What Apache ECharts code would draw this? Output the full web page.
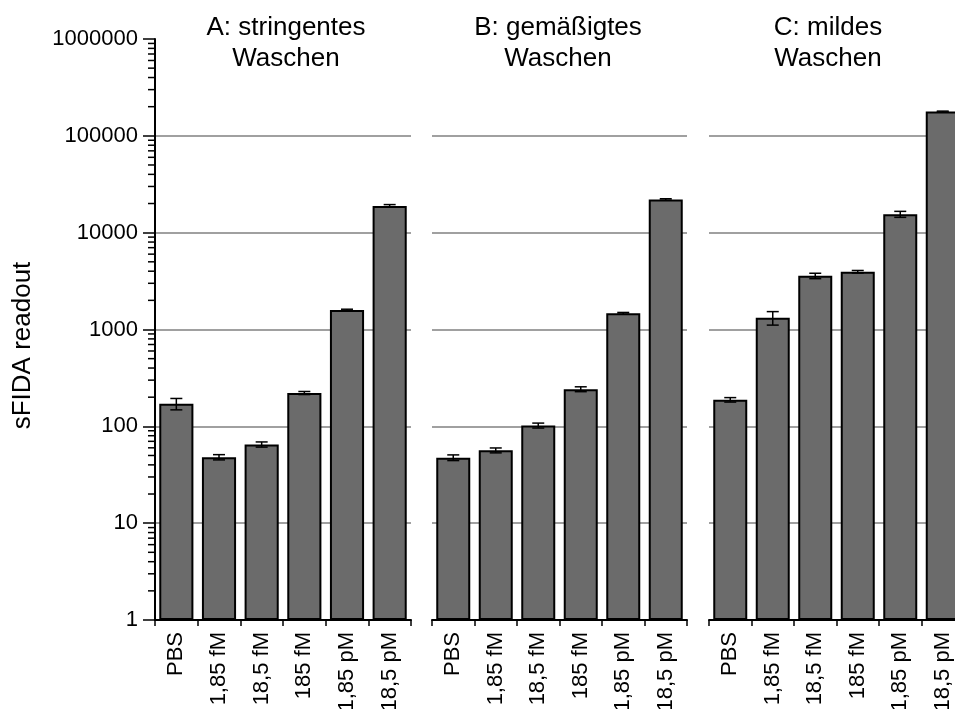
<!DOCTYPE html>
<html>
<head>
<meta charset="utf-8">
<script src="https://cdn.jsdelivr.net/npm/echarts@6/dist/echarts.min.js"></script>
<style>
  html, body { margin: 0; padding: 0; background: #fff; }
  #chart { width: 955px; height: 709px; }
</style>
</head>
<body>
<div id="chart"></div>
<script>
// Concentrations on the x axis (same for every panel)
const categories = ['PBS', '1,85 fM', '18,5 fM', '185 fM', '1,85 pM', '18,5 pM'];
const panelTitles = ['A: stringentes\nWaschen', 'B: gemäßigtes\nWaschen', 'C: mildes\nWaschen'];
const yAxisName = 'sFIDA readout';

// Mean readout and error per concentration
const meanA = [171, 48, 65, 221, 1590, 18900];
const errA  = [23, 3, 4, 8, 30, 600];
const meanB = [47.5, 56.5, 102, 242, 1470, 22000];
const errB  = [3.2, 3.3, 6, 14, 30, 400];
const meanC = [188, 1320, 3580, 3950, 15500, 178000];
const errC  = [10, 210, 230, 120, 1100, 2000];

// Decade ticks of the log axis and the minor steps inside each decade
const yTicks = [1, 10, 100, 1000, 10000, 100000, 1000000];
const minorSteps = [2, 3, 4, 5, 6, 7, 8, 9];

const FONT = '"Liberation Sans", Arial, Helvetica, sans-serif';
const BAR_FILL = '#6b6b6b';

const means = [meanA, meanB, meanC];
const errs = [errA, errB, errC];

const gridRects = [
  { left: 155, width: 256 },
  { left: 432, width: 255 },
  { left: 709, width: 255 }
];
const titleCenters = [286, 558, 828];

const minorValues = [];
yTicks.slice(0, -1).forEach(function (d) {
  minorSteps.forEach(function (s) { minorValues.push(d * s); });
});

function renderErrorBar(params, api) {
  const lo = api.coord([api.value(0), api.value(1)]);
  const hi = api.coord([api.value(0), api.value(2)]);
  const half = 6;
  const st = { stroke: '#000', lineWidth: 1.5 };
  return {
    type: 'group',
    children: [
      { type: 'line', shape: { x1: lo[0], y1: lo[1], x2: hi[0], y2: hi[1] }, style: st },
      { type: 'line', shape: { x1: lo[0] - half, y1: lo[1], x2: lo[0] + half, y2: lo[1] }, style: st },
      { type: 'line', shape: { x1: hi[0] - half, y1: hi[1], x2: hi[0] + half, y2: hi[1] }, style: st }
    ]
  };
}

function renderMinorTick(params, api) {
  const y = api.coord([0, api.value(1)])[1];
  const x0 = params.coordSys.x;
  return {
    type: 'line',
    shape: { x1: x0 - 7, y1: y, x2: x0, y2: y },
    style: { stroke: '#000', lineWidth: 1.5 }
  };
}

const grids = gridRects.map(function (r) {
  return { left: r.left, width: r.width, top: 39, height: 581, outerBoundsMode: 'none', containLabel: false };
});

const xAxes = gridRects.map(function (r, i) {
  return {
    type: 'category',
    gridIndex: i,
    data: categories,
    boundaryGap: true,
    axisLine: { show: true, lineStyle: { color: '#000', width: 2 } },
    axisTick: { show: true, length: 6, interval: 0, lineStyle: { color: '#000', width: 1.5 } },
    axisLabel: { rotate: 90, interval: 0, margin: 12, color: '#000', fontSize: 22, fontFamily: FONT },
    splitLine: { show: false }
  };
});

const yAxes = gridRects.map(function (r, i) {
  const first = i === 0;
  return {
    type: 'log',
    logBase: 10,
    gridIndex: i,
    min: 1,
    max: 1000000,
    splitNumber: 6,
    axisLine: { show: first, lineStyle: { color: '#000', width: 2 } },
    axisTick: { show: first, length: 12, lineStyle: { color: '#000', width: 1.5 } },
    axisLabel: {
      show: first, margin: 17, color: '#000', fontSize: 22, fontFamily: FONT,
      formatter: function (v) { return String(Math.round(v)); }
    },
    splitLine: { show: true, showMinLine: false, showMaxLine: false, lineStyle: { color: '#808080', width: 1.5 } }
  };
});

const series = [];
means.forEach(function (m, i) {
  series.push({
    type: 'bar',
    xAxisIndex: i,
    yAxisIndex: i,
    data: m,
    barWidth: '80%',
    itemStyle: { color: BAR_FILL, borderColor: '#000', borderWidth: 2 },
    z: 2
  });
  series.push({
    type: 'custom',
    xAxisIndex: i,
    yAxisIndex: i,
    renderItem: renderErrorBar,
    encode: { x: 0, y: [1, 2] },
    data: m.map(function (v, j) { return [j, v - errs[i][j], v + errs[i][j]]; }),
    z: 3,
    silent: true
  });
});
series.push({
  type: 'custom',
  xAxisIndex: 0,
  yAxisIndex: 0,
  renderItem: renderMinorTick,
  encode: { x: 0, y: 1 },
  data: minorValues.map(function (v) { return [0, v]; }),
  clip: false,
  silent: true,
  z: 4
});

const graphics = panelTitles.map(function (t, i) {
  return {
    type: 'text',
    x: titleCenters[i],
    y: 12,
    style: {
      text: t, fill: '#000', font: '26px ' + FONT, lineHeight: 31,
      align: 'center', textAlign: 'center', verticalAlign: 'top', textVerticalAlign: 'top'
    }
  };
});
graphics.push({
  type: 'text',
  x: 23,
  y: 345.5,
  rotation: Math.PI / 2,
  style: {
    text: yAxisName, fill: '#000', font: '26px ' + FONT,
    align: 'center', textAlign: 'center', verticalAlign: 'middle', textVerticalAlign: 'middle'
  }
});

const chart = echarts.init(document.getElementById('chart'), null, { renderer: 'canvas' });
chart.setOption({
  animation: false,
  backgroundColor: '#fff',
  grid: grids,
  xAxis: xAxes,
  yAxis: yAxes,
  series: series,
  graphic: graphics
});
</script>
</body>
</html>
